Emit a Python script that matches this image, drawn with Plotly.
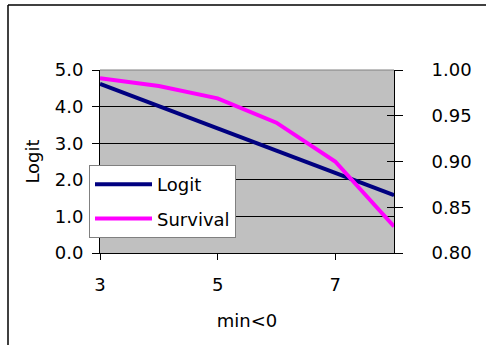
import plotly.graph_objects as go

x_vals = [3, 4, 5, 6, 7, 8]
logit = [4.62, 4.01, 3.41, 2.80, 2.20, 1.58]
survival = [0.991, 0.9825, 0.969, 0.9424, 0.900, 0.829]
left_ticks = [0, 1, 2, 3, 4, 5]
left_labels = ["0.0", "1.0", "2.0", "3.0", "4.0", "5.0"]
right_ticks = [0.80, 0.85, 0.90, 0.95, 1.00]
right_labels = ["0.80", "0.85", "0.90", "0.95", "1.00"]

FONT = "DejaVu Sans"
W, H = 486, 345
L, R, T, B = 100, 92, 70, 92
pw, ph = W - L - R, H - T - B

fig = go.Figure()
fig.add_trace(go.Scatter(x=x_vals, y=logit, name="Logit", mode="lines", legendgroup="a",
                         line=dict(color="#000080", width=4), yaxis="y"))
fig.add_trace(go.Scatter(x=x_vals, y=survival, name="Survival", mode="lines", legendgroup="b",
                         line=dict(color="#FF00FF", width=4), yaxis="y2"))

fig.update_layout(
    width=W, height=H,
    margin=dict(l=L, r=R, t=T, b=B),
    paper_bgcolor="white", plot_bgcolor="#C0C0C0",
    font=dict(family=FONT, size=18, color="black"),
    xaxis=dict(range=[3, 8], tickvals=[3, 5, 7], ticktext=["3", "5", "7"],
               ticks="outside", ticklen=6, tickcolor="black", showgrid=False,
               showline=True, linecolor="black", linewidth=1, zeroline=False,
               ticklabelstandoff=9,
               title=dict(text="min<0", standoff=20, font=dict(size=18))),
    yaxis=dict(range=[0, 5], tickvals=left_ticks, ticktext=left_labels,
               ticks="outside", ticklen=7, tickcolor="black",
               showgrid=True, gridcolor="black", gridwidth=1,
               showline=True, linecolor="black", linewidth=1, zeroline=False,
               ticklabelstandoff=5,
               title=dict(text="Logit", standoff=10, font=dict(size=18))),
    yaxis2=dict(range=[0.80, 1.00], tickvals=right_ticks, ticktext=right_labels,
                overlaying="y", side="right", ticks="outside", ticklen=8,
                tickcolor="black", showgrid=False, showline=True,
                linecolor="black", linewidth=1, zeroline=False,
                ticklabelstandoff=25),
    yaxis3=dict(range=[0.80, 1.00], tickvals=right_ticks, showticklabels=False,
                overlaying="y", side="right", ticks="inside", ticklen=7,
                tickcolor="black", showgrid=False, showline=False, zeroline=False),
    showlegend=True,
    legend=dict(x=(89 - L) / pw, y=(H - B - 165) / ph, xanchor="left", yanchor="top",
                bgcolor="white", bordercolor="#808080", borderwidth=1,
                font=dict(size=18), itemwidth=57, tracegroupgap=8),
    shapes=[
        dict(type="line", xref="paper", yref="paper", x0=0, x1=1, y0=1, y1=1,
             line=dict(color="#808080", width=1), layer="above"),
        dict(type="line", xref="paper", yref="paper", x0=(8 - L) / pw, x1=(W + 5 - L) / pw,
             y0=(H - B - 5) / ph, y1=(H - B - 5) / ph, line=dict(color="black", width=1.5)),
        dict(type="line", xref="paper", yref="paper", x0=(8 - L) / pw, x1=(8 - L) / pw,
             y0=(H - B - 5) / ph, y1=(H - B - H - 5) / ph, line=dict(color="black", width=1.5)),
    ],
)
fig.add_trace(go.Scatter(x=[None], y=[None], yaxis="y3", showlegend=False, hoverinfo="skip"))

fig.write_html("out.html")
